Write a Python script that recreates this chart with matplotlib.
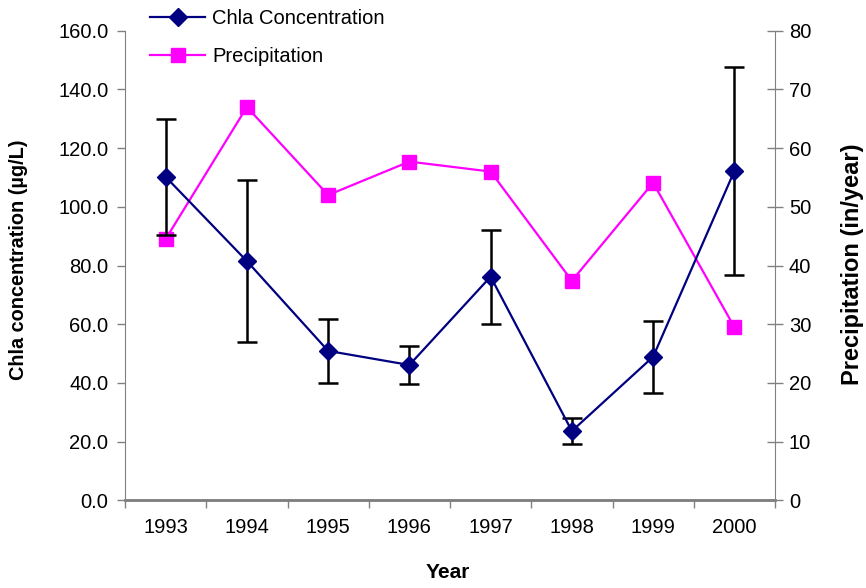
import matplotlib
matplotlib.use("Agg")
import matplotlib.pyplot as plt
import numpy as np

years = ["1993", "1994", "1995", "1996", "1997", "1998", "1999", "2000"]
chla = [110.2, 81.5, 50.9, 46.1, 76.2, 23.6, 48.9, 112.2]
chla_err = [19.7, 27.5, 10.9, 6.5, 16.0, 4.5, 12.2, 35.4]
precip = [44.5, 67.0, 52.0, 57.7, 56.0, 37.4, 54.1, 29.5]

plt.rcParams["font.family"] = ["Liberation Sans", "DejaVu Sans"]
FS = 14.5
GRAY = "#808080"
W, H = 866, 588

fig = plt.figure(figsize=(W / 100, H / 100), dpi=100)
ax = fig.add_axes([125 / W, 1 - 500.3 / H, 650 / W, 469.6 / H])
ax2 = ax.twinx()
ax.set_zorder(ax2.get_zorder() + 1)
ax.patch.set_visible(False)

x = np.arange(len(years))

# precipitation on the secondary axis
(lp,) = ax2.plot(x, precip, color="#FF00FF", lw=1.6, marker="s", ms=10,
                 mec="#FF00FF", mfc="#FF00FF", label="Precipitation")

# chlorophyll-a with error bars on the primary axis
ax.errorbar(x, chla, yerr=chla_err, fmt="none", ecolor="black",
            elinewidth=1.8, capsize=7, capthick=1.8, zorder=2)
(lc,) = ax.plot(x, chla, color="#000080", lw=1.6, marker="D", ms=9,
                mec="#000080", mfc="#000080", label="Chla Concentration",
                zorder=3)

ax.set_xlim(-0.5, len(years) - 0.5)
ax.set_ylim(0, 160)
ax2.set_ylim(0, 80)

# category axis: ticks at boundaries, labels at centers
ax.set_xticks(np.arange(-0.5, len(years), 1.0))
ax.set_xticklabels([])
ax.set_xticks(x, minor=True)
ax.set_xticklabels(years, minor=True, fontsize=FS)
ax.tick_params(axis="x", which="major", direction="out", length=6,
               width=1, color=GRAY)
ax.tick_params(axis="x", which="minor", length=0, pad=13)

ax.set_yticks(np.arange(0, 161, 20))
ax.set_yticklabels([f"{v:.1f}" for v in np.arange(0, 161, 20)], fontsize=FS)
ax.tick_params(axis="y", direction="out", length=6, width=1, color=GRAY,
               pad=6)

ax2.set_yticks(np.arange(0, 81, 10))
ax2.set_yticklabels([str(v) for v in range(0, 81, 10)], fontsize=FS)
ax2.tick_params(axis="y", direction="inout", length=12, width=1,
                color=GRAY, pad=4)

for a in (ax, ax2):
    a.spines["top"].set_visible(False)
    a.spines["left"].set_color(GRAY)
    a.spines["right"].set_color(GRAY)
    a.spines["bottom"].set_color(GRAY)
    a.spines["bottom"].set_linewidth(1.8)
ax.spines["right"].set_visible(False)
ax2.spines["left"].set_visible(False)

# axis titles
fig.text(19 / W, 1 - 260 / H, "Chla concentration (µg/L)", rotation=90,
         ha="center", va="center", fontsize=14.3, fontweight="bold")
fig.text(852 / W, 1 - 264 / H, "Precipitation (in/year)", rotation=90,
         ha="center", va="center", fontsize=17, fontweight="bold")
fig.text(448 / W, 1 - 572 / H, "Year", ha="center", va="center",
         fontsize=15, fontweight="bold")

fig.legend(handles=[lc, lp], loc="upper left",
           bbox_to_anchor=(142 / W, 1 - 1 / H), frameon=False,
           fontsize=FS, handlelength=2.75, handletextpad=0.35,
           labelspacing=0.95, borderaxespad=0)

fig.savefig("out.png", dpi=100)
